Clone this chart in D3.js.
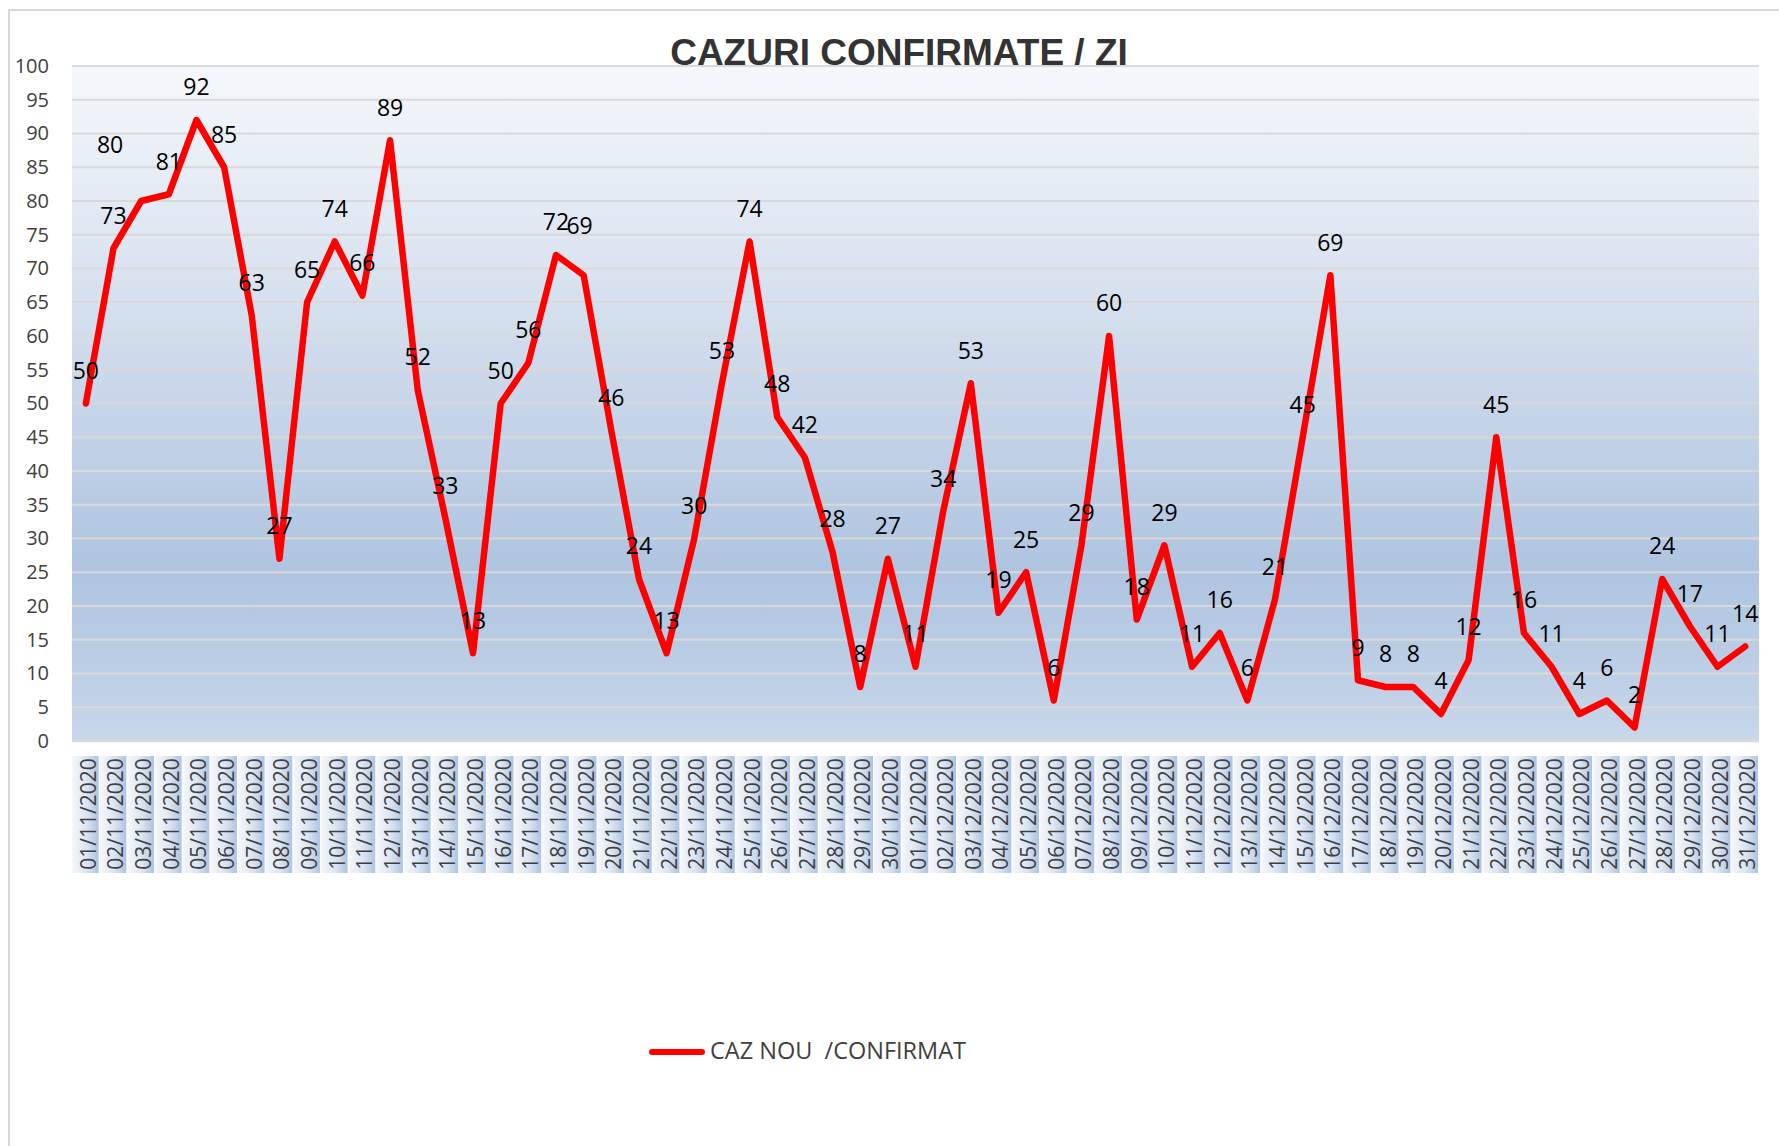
<!DOCTYPE html>
<html>
<head>
<meta charset="utf-8">
<script src="https://cdn.jsdelivr.net/npm/d3@7"></script>
<style>
  body { margin: 0; background: #fff; }
  text { font-family: "Open Sans", sans-serif; }
</style>
</head>
<body>
<svg></svg>
<script>
  // datele: cazuri noi confirmate pe zi, noiembrie - decembrie 2020
  let days = [
    '01/11/2020', '02/11/2020', '03/11/2020', '04/11/2020', '05/11/2020', '06/11/2020', '07/11/2020',
    '08/11/2020', '09/11/2020', '10/11/2020', '11/11/2020', '12/11/2020', '13/11/2020', '14/11/2020',
    '15/11/2020', '16/11/2020', '17/11/2020', '18/11/2020', '19/11/2020', '20/11/2020', '21/11/2020',
    '22/11/2020', '23/11/2020', '24/11/2020', '25/11/2020', '26/11/2020', '27/11/2020', '28/11/2020',
    '29/11/2020', '30/11/2020',
    '01/12/2020', '02/12/2020', '03/12/2020', '04/12/2020', '05/12/2020', '06/12/2020', '07/12/2020',
    '08/12/2020', '09/12/2020', '10/12/2020', '11/12/2020', '12/12/2020', '13/12/2020', '14/12/2020',
    '15/12/2020', '16/12/2020', '17/12/2020', '18/12/2020', '19/12/2020', '20/12/2020', '21/12/2020',
    '22/12/2020', '23/12/2020', '24/12/2020', '25/12/2020', '26/12/2020', '27/12/2020', '28/12/2020',
    '29/12/2020', '30/12/2020', '31/12/2020'
  ]
  let cases = [
    50, 73, 80, 81, 92, 85, 63, 27, 65, 74, 66, 89, 52, 33, 13, 50, 56, 72, 69, 46, 24, 13, 30, 53, 74,
    48, 42, 28, 8, 27,
    11, 34, 53, 19, 25, 6, 29, 60, 18, 29, 11, 16, 6, 21, 45, 69, 9, 8, 8, 4, 12, 45, 16, 11, 4, 6, 2,
    24, 17, 11, 14
  ]
  let yTicks = d3.range(0, 101, 5)
  let title = 'CAZURI CONFIRMATE / ZI'
  let seriesName = 'CAZ NOU  /CONFIRMAT'

  let svgWidth = 1779, svgHeight = 1146
  let plot = { left: 72, right: 1759, top: 66, bottom: 741 }

  let svg = d3.select('svg')
    .attr('width', svgWidth)
    .attr('height', svgHeight)

  let defs = svg.append('defs')

  // fundal zona grafic
  let bg = defs.append('linearGradient')
    .attr('id', 'plotBg')
    .attr('x1', 0).attr('y1', 0).attr('x2', 0).attr('y2', 1)
  bg.append('stop').attr('offset', '0%').attr('stop-color', '#f5f8fc')
  bg.append('stop').attr('offset', '35%').attr('stop-color', '#d6e0ee')
  bg.append('stop').attr('offset', '75%').attr('stop-color', '#aec4e0')
  bg.append('stop').attr('offset', '100%').attr('stop-color', '#c8d7ea')

  // fundal etichete axa x
  let band = defs.append('linearGradient')
    .attr('id', 'bandBg')
    .attr('x1', 0).attr('y1', 0).attr('x2', 1).attr('y2', 0)
  band.append('stop').attr('offset', '0%').attr('stop-color', '#f5f8fc')
  band.append('stop').attr('offset', '55%').attr('stop-color', '#dbe5f2')
  band.append('stop').attr('offset', '100%').attr('stop-color', '#adc3e2')

  // chenar grafic
  svg.append('rect')
    .attr('x', 9).attr('y', 10)
    .attr('width', 1800).attr('height', 1200)
    .attr('fill', '#fff')
    .attr('stroke', '#d9d9d9')
    .attr('stroke-width', 2)

  svg.append('text')
    .attr('x', 899)
    .attr('y', 65)
    .attr('text-anchor', 'middle')
    .style('font-family', '"Liberation Sans", Arial, sans-serif')
    .style('font-weight', 'bold')
    .style('font-size', '37px')
    .attr('fill', '#333333')
    .text(title)

  let x = d3.scaleBand()
    .domain(days)
    .range([plot.left, plot.right])

  let y = d3.scaleLinear()
    .domain([0, 100])
    .range([plot.bottom, plot.top])

  svg.append('rect')
    .attr('x', plot.left)
    .attr('y', plot.top)
    .attr('width', plot.right - plot.left)
    .attr('height', plot.bottom - plot.top)
    .attr('fill', 'url(#plotBg)')

  // linii de grila
  svg.append('g')
    .selectAll('line')
    .data(yTicks)
    .enter()
    .append('line')
    .attr('x1', plot.left)
    .attr('x2', plot.right)
    .attr('y1', function (d) { return y(d) })
    .attr('y2', function (d) { return y(d) })
    .attr('stroke', '#d9d9d9')
    .attr('stroke-width', function (d) { return d === 0 ? 2.5 : 2 })

  // axa y
  let yAxis = svg.append('g')
    .attr('transform', 'translate(' + (plot.left - 23) + ',0)')
    .call(d3.axisLeft(y).tickValues(yTicks).tickSize(0).tickPadding(0))
  yAxis.select('.domain').remove()
  yAxis.selectAll('text')
    .attr('fill', '#404040')
    .style('font-size', '20px')
    .style('font-family', '"Open Sans", sans-serif')

  // axa x: benzi + date rotite
  let xLab = svg.append('g')
  xLab.selectAll('rect')
    .data(days)
    .enter()
    .append('rect')
    .attr('x', function (d) { return x(d) })
    .attr('y', 756)
    .attr('width', x.bandwidth() - 1)
    .attr('height', 117)
    .attr('fill', 'url(#bandBg)')

  xLab.selectAll('text')
    .data(days)
    .enter()
    .append('text')
    .attr('transform', function (d) {
      return 'translate(' + (x(d) + x.bandwidth() / 2 + 10) + ',814) rotate(-90)'
    })
    .attr('text-anchor', 'middle')
    .attr('fill', '#404040')
    .style('font-size', '21px')
    .text(function (d) { return d })

  // linia seriei
  let line = d3.line()
    .x(function (d, i) { return x(days[i]) + x.bandwidth() / 2 })
    .y(function (d) { return y(d) })

  svg.append('path')
    .datum(cases)
    .attr('d', line)
    .attr('fill', 'none')
    .attr('stroke', '#ff0000')
    .attr('stroke-width', 6.5)
    .attr('stroke-linejoin', 'round')
    .attr('stroke-linecap', 'round')

  // etichete de date (cateva mutate manual ca in original)
  let nudge = { 2: [-31, -23], 18: [-4, -17] }

  svg.append('g')
    .selectAll('text')
    .data(cases)
    .enter()
    .append('text')
    .attr('x', function (d, i) {
      let n = nudge[i] || [0, 0]
      return x(days[i]) + x.bandwidth() / 2 + n[0]
    })
    .attr('y', function (d, i) {
      let n = nudge[i] || [0, 0]
      return y(d) - 33 + n[1]
    })
    .attr('dy', '0.36em')
    .attr('text-anchor', 'middle')
    .attr('fill', '#000')
    .style('font-size', '23px')
    .text(function (d) { return d })

  // legenda
  let legend = svg.append('g')
  legend.append('line')
    .attr('x1', 652).attr('x2', 702)
    .attr('y1', 1052).attr('y2', 1052)
    .attr('stroke', '#ff0000')
    .attr('stroke-width', 6)
    .attr('stroke-linecap', 'round')
  legend.append('text')
    .attr('x', 710)
    .attr('y', 1059)
    .attr('fill', '#404040')
    .style('font-size', '23.5px')
    .style('white-space', 'pre')
    .text(seriesName)
</script>
</body>
</html>
